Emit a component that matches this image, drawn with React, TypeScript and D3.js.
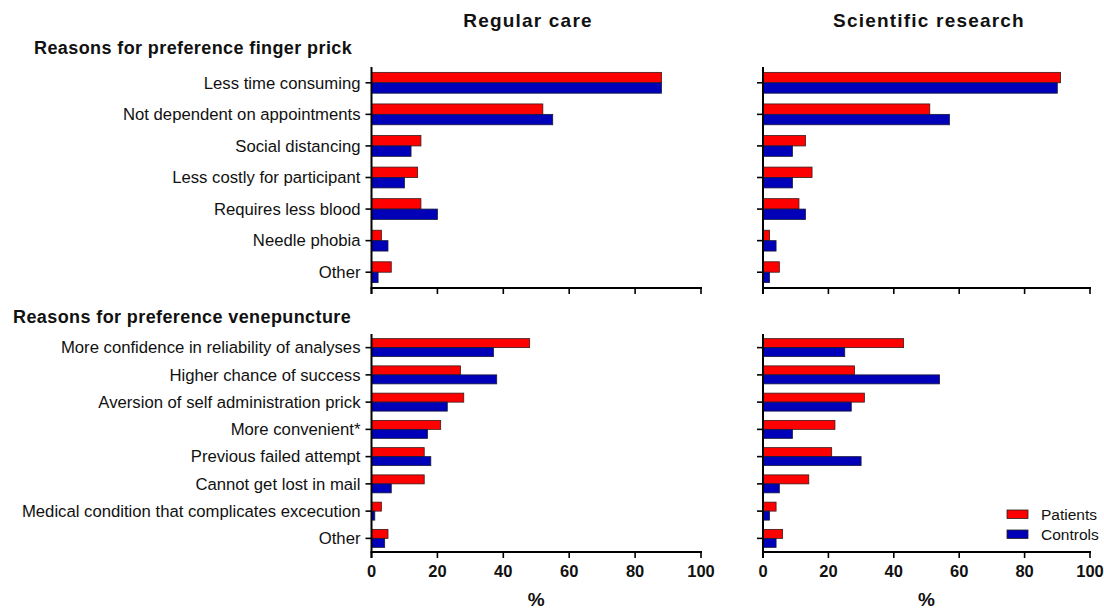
import React from "react";
import * as d3 from "d3";

const fingerCats = [
  "Less time consuming",
  "Not dependent on appointments",
  "Social distancing",
  "Less costly for participant",
  "Requires less blood",
  "Needle phobia",
  "Other",
];
const fingerRegularPatients = [88, 52, 15, 14, 15, 3, 6];
const fingerRegularControls = [88, 55, 12, 10, 20, 5, 2];
const fingerResearchPatients = [91, 51, 13, 15, 11, 2, 5];
const fingerResearchControls = [90, 57, 9, 9, 13, 4, 2];

const veneCats = [
  "More confidence in reliability of analyses",
  "Higher chance of success",
  "Aversion of self administration prick",
  "More convenient*",
  "Previous failed attempt",
  "Cannot get lost in mail",
  "Medical condition that complicates excecution",
  "Other",
];
const veneRegularPatients = [48, 27, 28, 21, 16, 16, 3, 5];
const veneRegularControls = [37, 38, 23, 17, 18, 6, 1, 4];
const veneResearchPatients = [43, 28, 31, 22, 21, 14, 4, 6];
const veneResearchControls = [25, 54, 27, 9, 30, 5, 2, 4];

const xTicks = [0, 20, 40, 60, 80, 100];
const seriesNames = ["Patients", "Controls"];
const RED = "#ff0000";
const BLUE = "#0000b8";
const FONT = "'Liberation Sans', Arial, Helvetica, sans-serif";

type PanelProps = {
  cats: string[];
  patients: number[];
  controls: number[];
  x0: number;
  x1: number;
  y0: number;
  y1: number;
  showLabels: boolean;
  showTickLabels: boolean;
};

function Panel({ cats, patients, controls, x0, x1, y0, y1, showLabels, showTickLabels }: PanelProps) {
  const x = d3.scaleLinear().domain([0, 100]).range([x0, x1]);
  const pad = 0.34;
  const y = d3.scaleBand<string>().domain(cats).range([y0, y1]).paddingInner(pad).paddingOuter(pad / 2);
  const sub = d3.scaleBand<string>().domain(seriesNames).range([0, y.bandwidth()]);
  const tickLen = 6;
  return (
    <g>
      {cats.map((c, i) => (
        <g key={c}>
          <rect
            x={x(0)}
            y={(y(c) as number) + (sub("Patients") as number)}
            width={x(patients[i]) - x(0)}
            height={sub.bandwidth()}
            fill={RED}
            stroke="#3a1a1a"
            strokeWidth={0.8}
          />
          <rect
            x={x(0)}
            y={(y(c) as number) + (sub("Controls") as number)}
            width={x(controls[i]) - x(0)}
            height={sub.bandwidth()}
            fill={BLUE}
            stroke="#1a1a3a"
            strokeWidth={0.8}
          />
          <line
            x1={x(0) - tickLen}
            x2={x(0)}
            y1={(y(c) as number) + y.bandwidth() / 2}
            y2={(y(c) as number) + y.bandwidth() / 2}
            stroke="#000"
            strokeWidth={1.6}
          />
          {showLabels && (
            <text
              x={x(0) - tickLen - 5}
              y={(y(c) as number) + y.bandwidth() / 2}
              dy="0.35em"
              textAnchor="end"
              fontSize={16.7}
              fill="#111"
            >
              {c}
            </text>
          )}
        </g>
      ))}
      <line x1={x(0)} x2={x(0)} y1={y0} y2={y1 + tickLen} stroke="#000" strokeWidth={2} />
      <line x1={x(0) - 1} x2={x(100) + 1} y1={y1} y2={y1} stroke="#000" strokeWidth={2} />
      {xTicks.map((t) => (
        <g key={t}>
          <line x1={x(t)} x2={x(t)} y1={y1} y2={y1 + tickLen} stroke="#000" strokeWidth={1.6} />
          {showTickLabels && (
            <text x={x(t)} y={y1 + 24.5} textAnchor="middle" fontSize={16.5} fontWeight="bold" fill="#111">
              {t}
            </text>
          )}
        </g>
      ))}
      {showTickLabels && (
        <text x={(x0 + x1) / 2} y={606} textAnchor="middle" fontSize={19} fontWeight="bold" fill="#111">
          %
        </text>
      )}
    </g>
  );
}

export default function App() {
  const W = 1104;
  const H = 612;
  const L0 = 371.5, L1 = 701;
  const R0 = 763, R1 = 1090;
  const topY0 = 67, topY1 = 288;
  const botY0 = 334, botY1 = 552;
  return (
    <svg
      width={W}
      height={H}
      style={{ position: "absolute", left: 0, top: 0, background: "#fff" }}
      fontFamily={FONT}
    >
      <rect x={0} y={0} width={W} height={H} fill="#fff" />
      <text x={528} y={27} textAnchor="middle" fontSize={19} fontWeight="bold" letterSpacing={1.2} fill="#111">
        Regular care
      </text>
      <text x={929} y={27} textAnchor="middle" fontSize={19} fontWeight="bold" letterSpacing={1.2} fill="#111">
        Scientific research
      </text>
      <text x={34} y={54} fontSize={18} fontWeight="bold" letterSpacing={0.4} fill="#111">
        Reasons for preference finger prick
      </text>
      <text x={13} y={323} fontSize={18} fontWeight="bold" letterSpacing={0.4} fill="#111">
        Reasons for preference venepuncture
      </text>
      <Panel
        cats={fingerCats}
        patients={fingerRegularPatients}
        controls={fingerRegularControls}
        x0={L0}
        x1={L1}
        y0={topY0}
        y1={topY1}
        showLabels={true}
        showTickLabels={false}
      />
      <Panel
        cats={fingerCats}
        patients={fingerResearchPatients}
        controls={fingerResearchControls}
        x0={R0}
        x1={R1}
        y0={topY0}
        y1={topY1}
        showLabels={false}
        showTickLabels={false}
      />
      <Panel
        cats={veneCats}
        patients={veneRegularPatients}
        controls={veneRegularControls}
        x0={L0}
        x1={L1}
        y0={botY0}
        y1={botY1}
        showLabels={true}
        showTickLabels={true}
      />
      <Panel
        cats={veneCats}
        patients={veneResearchPatients}
        controls={veneResearchControls}
        x0={R0}
        x1={R1}
        y0={botY0}
        y1={botY1}
        showLabels={false}
        showTickLabels={true}
      />
      {seriesNames.map((s, i) => (
        <g key={s}>
          <rect
            x={1007}
            y={510 + i * 20}
            width={21}
            height={8.5}
            fill={i === 0 ? RED : BLUE}
            stroke="#222"
            strokeWidth={0.8}
          />
          <text x={1041} y={514.5 + i * 20} dy="0.35em" fontSize={15.5} fill="#111">
            {s}
          </text>
        </g>
      ))}
    </svg>
  );
}
